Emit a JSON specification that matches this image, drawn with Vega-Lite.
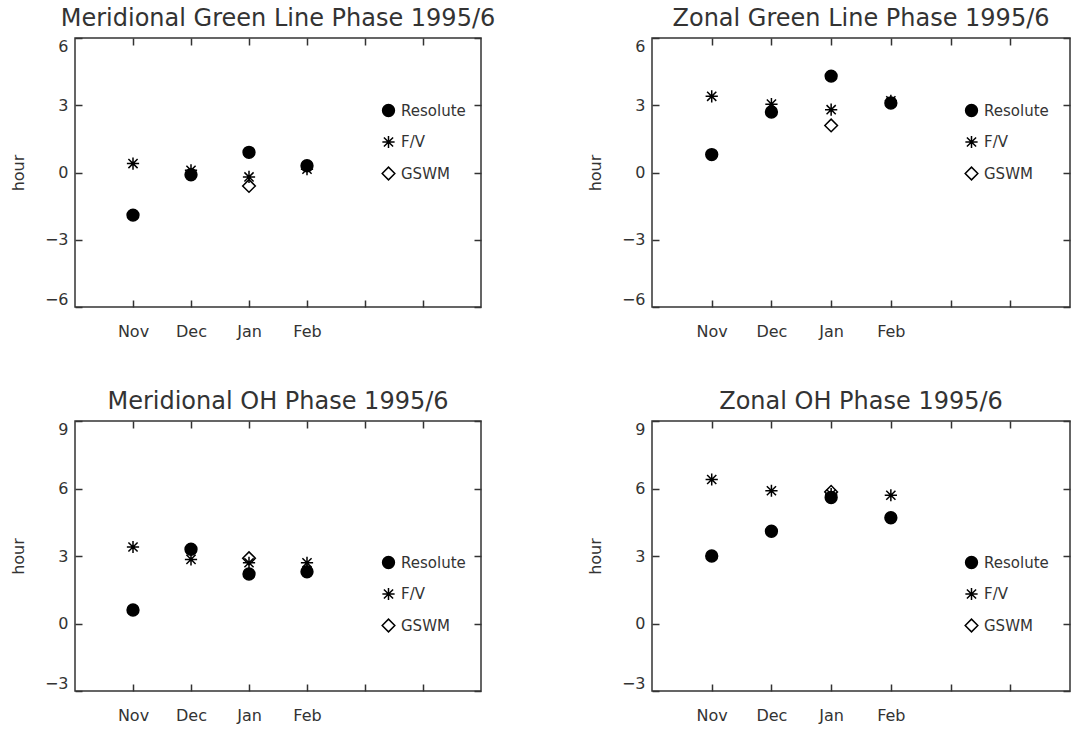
{
  "$schema": "https://vega.github.io/schema/vega-lite/v6.json",
  "background": "white",
  "padding": {"left": 9, "top": 6, "right": 0, "bottom": 0},
  "spacing": 49,
  "config": {
    "font": "DejaVu Sans",
    "view": {"stroke": "#333", "strokeWidth": 1.5},
    "axis": {
      "grid": false, "domain": false,
      "tickColor": "#333", "tickWidth": 1.5, "tickSize": -7,
      "labelColor": "#333", "labelFontSize": 16, "labelFont": "DejaVu Sans",
      "titleColor": "#333", "titleFontSize": 16, "titleFontWeight": "normal", "titleFont": "DejaVu Sans"
    },
    "title": {"fontSize": 24, "fontWeight": "normal", "color": "#333", "anchor": "middle", "offset": 6, "font": "DejaVu Sans"},
    "legend": {
      "labelFontSize": 15, "labelColor": "#333", "labelFont": "DejaVu Sans",
      "symbolStrokeColor": "black", "symbolStrokeWidth": 1.5, "symbolOpacity": 1,
      "padding": 0, "rowPadding": 12.5, "labelOffset": 5, "offset": 0
    }
  },
  "datasets": {
    "phase": [
      {"panel": "MG", "series": "F/V", "month": "Nov", "hour": 0.4},
      {"panel": "MG", "series": "F/V", "month": "Dec", "hour": 0.1},
      {"panel": "MG", "series": "F/V", "month": "Jan", "hour": -0.2},
      {"panel": "MG", "series": "F/V", "month": "Feb", "hour": 0.15},
      {"panel": "MG", "series": "Resolute", "month": "Nov", "hour": -1.9},
      {"panel": "MG", "series": "Resolute", "month": "Dec", "hour": -0.1},
      {"panel": "MG", "series": "Resolute", "month": "Jan", "hour": 0.9},
      {"panel": "MG", "series": "Resolute", "month": "Feb", "hour": 0.3},
      {"panel": "MG", "series": "GSWM", "month": "Jan", "hour": -0.6},
      {"panel": "ZG", "series": "F/V", "month": "Nov", "hour": 3.4},
      {"panel": "ZG", "series": "F/V", "month": "Dec", "hour": 3.05},
      {"panel": "ZG", "series": "F/V", "month": "Jan", "hour": 2.8},
      {"panel": "ZG", "series": "F/V", "month": "Feb", "hour": 3.2},
      {"panel": "ZG", "series": "Resolute", "month": "Nov", "hour": 0.8},
      {"panel": "ZG", "series": "Resolute", "month": "Dec", "hour": 2.7},
      {"panel": "ZG", "series": "Resolute", "month": "Jan", "hour": 4.3},
      {"panel": "ZG", "series": "Resolute", "month": "Feb", "hour": 3.1},
      {"panel": "ZG", "series": "GSWM", "month": "Jan", "hour": 2.1},
      {"panel": "MO", "series": "F/V", "month": "Nov", "hour": 3.4},
      {"panel": "MO", "series": "F/V", "month": "Dec", "hour": 2.85},
      {"panel": "MO", "series": "F/V", "month": "Jan", "hour": 2.7},
      {"panel": "MO", "series": "F/V", "month": "Feb", "hour": 2.7},
      {"panel": "MO", "series": "Resolute", "month": "Nov", "hour": 0.6},
      {"panel": "MO", "series": "Resolute", "month": "Dec", "hour": 3.3},
      {"panel": "MO", "series": "Resolute", "month": "Jan", "hour": 2.2},
      {"panel": "MO", "series": "Resolute", "month": "Feb", "hour": 2.3},
      {"panel": "MO", "series": "GSWM", "month": "Jan", "hour": 2.9},
      {"panel": "ZO", "series": "F/V", "month": "Nov", "hour": 6.4},
      {"panel": "ZO", "series": "F/V", "month": "Dec", "hour": 5.9},
      {"panel": "ZO", "series": "F/V", "month": "Jan", "hour": 5.75},
      {"panel": "ZO", "series": "F/V", "month": "Feb", "hour": 5.7},
      {"panel": "ZO", "series": "Resolute", "month": "Nov", "hour": 3.0},
      {"panel": "ZO", "series": "Resolute", "month": "Dec", "hour": 4.1},
      {"panel": "ZO", "series": "Resolute", "month": "Jan", "hour": 5.6},
      {"panel": "ZO", "series": "Resolute", "month": "Feb", "hour": 4.7},
      {"panel": "ZO", "series": "GSWM", "month": "Jan", "hour": 5.85}
    ]
  },
  "resolve": {"scale": {"shape": "independent", "fill": "independent", "size": "independent"}},
  "vconcat": [
    {
      "spacing": 90,
      "resolve": {"scale": {"shape": "independent", "fill": "independent", "size": "independent"}},
      "hconcat": [
        {
          "width": 406, "height": 269,
          "title": "Meridional Green Line Phase 1995/6",
          "data": {"name": "phase"},
          "transform": [{"filter": "datum.panel == 'MG'"}],
          "resolve": {"axis": {"x": "independent", "y": "independent"}},
          "layer": [
            {
              "mark": {"type": "point", "stroke": "black", "strokeWidth": 1.5, "opacity": 1},
              "encoding": {
                "x": {"field": "month", "type": "nominal", "scale": {"type": "point", "domain": ["Nov", "Dec", "Jan", "Feb", "Mar", "Apr"], "padding": 1},
                      "axis": {"orient": "bottom", "title": null, "labelAngle": 0, "labelPadding": 23, "labelExpr": "indexof(['Mar','Apr'], datum.value) >= 0 ? '' : datum.value"}},
                "y": {"field": "hour", "type": "quantitative", "scale": {"domain": [-6, 6], "nice": false, "zero": false},
                      "axis": {"orient": "left", "title": "hour", "values": [-6, -3, 0, 3, 6], "labelPadding": 14, "labelFlush": true, "titlePadding": 18}},
                "shape": {"field": "series", "type": "nominal", "scale": {"domain": ["Resolute", "F/V", "GSWM"], "range": ["circle", "M0,-1L0,1M-1,0L1,0M-0.75,-0.75L0.75,0.75M-0.75,0.75L0.75,-0.75", "diamond"]},
                          "legend": {"title": null, "orient": "none", "legendX": 306, "legendY": 65, "encode": {"symbols": {"update": {"stroke": {"value": "black"}, "strokeWidth": {"value": 1.5}, "opacity": {"value": 1}}}}}},
                "fill": {"field": "series", "type": "nominal", "scale": {"domain": ["Resolute", "F/V", "GSWM"], "range": ["black", "transparent", "transparent"]},
                         "legend": {"title": null, "orient": "none", "legendX": 306, "legendY": 65, "encode": {"symbols": {"update": {"stroke": {"value": "black"}, "strokeWidth": {"value": 1.5}, "opacity": {"value": 1}}}}}},
                "size": {"field": "series", "type": "nominal", "scale": {"domain": ["Resolute", "F/V", "GSWM"], "range": [140, 160, 100]},
                         "legend": {"title": null, "orient": "none", "legendX": 306, "legendY": 65, "encode": {"symbols": {"update": {"stroke": {"value": "black"}, "strokeWidth": {"value": 1.5}, "opacity": {"value": 1}}}}}}
              }
            },
            {
              "mark": {"type": "point", "opacity": 0},
              "encoding": {
                "x": {"field": "month", "type": "nominal", "axis": {"orient": "top", "title": null, "labels": false}},
                "y": {"field": "hour", "type": "quantitative", "axis": {"orient": "right", "title": null, "labels": false, "values": [-6, -3, 0, 3, 6]}}
              }
            }
          ]
        },
        {
          "width": 418, "height": 269,
          "title": "Zonal Green Line Phase 1995/6",
          "data": {"name": "phase"},
          "transform": [{"filter": "datum.panel == 'ZG'"}],
          "resolve": {"axis": {"x": "independent", "y": "independent"}},
          "layer": [
            {
              "mark": {"type": "point", "stroke": "black", "strokeWidth": 1.5, "opacity": 1},
              "encoding": {
                "x": {"field": "month", "type": "nominal", "scale": {"type": "point", "domain": ["Nov", "Dec", "Jan", "Feb", "Mar", "Apr"], "padding": 1},
                      "axis": {"orient": "bottom", "title": null, "labelAngle": 0, "labelPadding": 23, "labelExpr": "indexof(['Mar','Apr'], datum.value) >= 0 ? '' : datum.value"}},
                "y": {"field": "hour", "type": "quantitative", "scale": {"domain": [-6, 6], "nice": false, "zero": false},
                      "axis": {"orient": "left", "title": "hour", "values": [-6, -3, 0, 3, 6], "labelPadding": 14, "labelFlush": true, "titlePadding": 18}},
                "shape": {"field": "series", "type": "nominal", "scale": {"domain": ["Resolute", "F/V", "GSWM"], "range": ["circle", "M0,-1L0,1M-1,0L1,0M-0.75,-0.75L0.75,0.75M-0.75,0.75L0.75,-0.75", "diamond"]},
                          "legend": {"title": null, "orient": "none", "legendX": 312, "legendY": 65, "encode": {"symbols": {"update": {"stroke": {"value": "black"}, "strokeWidth": {"value": 1.5}, "opacity": {"value": 1}}}}}},
                "fill": {"field": "series", "type": "nominal", "scale": {"domain": ["Resolute", "F/V", "GSWM"], "range": ["black", "transparent", "transparent"]},
                         "legend": {"title": null, "orient": "none", "legendX": 312, "legendY": 65, "encode": {"symbols": {"update": {"stroke": {"value": "black"}, "strokeWidth": {"value": 1.5}, "opacity": {"value": 1}}}}}},
                "size": {"field": "series", "type": "nominal", "scale": {"domain": ["Resolute", "F/V", "GSWM"], "range": [140, 160, 100]},
                         "legend": {"title": null, "orient": "none", "legendX": 312, "legendY": 65, "encode": {"symbols": {"update": {"stroke": {"value": "black"}, "strokeWidth": {"value": 1.5}, "opacity": {"value": 1}}}}}}
              }
            },
            {
              "mark": {"type": "point", "opacity": 0},
              "encoding": {
                "x": {"field": "month", "type": "nominal", "axis": {"orient": "top", "title": null, "labels": false}},
                "y": {"field": "hour", "type": "quantitative", "axis": {"orient": "right", "title": null, "labels": false, "values": [-6, -3, 0, 3, 6]}}
              }
            }
          ]
        }
      ]
    },
    {
      "spacing": 103,
      "resolve": {"scale": {"shape": "independent", "fill": "independent", "size": "independent"}},
      "hconcat": [
        {
          "width": 406, "height": 270,
          "title": "Meridional OH Phase 1995/6",
          "data": {"name": "phase"},
          "transform": [{"filter": "datum.panel == 'MO'"}],
          "resolve": {"axis": {"x": "independent", "y": "independent"}},
          "layer": [
            {
              "mark": {"type": "point", "stroke": "black", "strokeWidth": 1.5, "opacity": 1},
              "encoding": {
                "x": {"field": "month", "type": "nominal", "scale": {"type": "point", "domain": ["Nov", "Dec", "Jan", "Feb", "Mar", "Apr"], "padding": 1},
                      "axis": {"orient": "bottom", "title": null, "labelAngle": 0, "labelPadding": 23, "labelExpr": "indexof(['Mar','Apr'], datum.value) >= 0 ? '' : datum.value"}},
                "y": {"field": "hour", "type": "quantitative", "scale": {"domain": [-3, 9], "nice": false, "zero": false},
                      "axis": {"orient": "left", "title": "hour", "values": [-3, 0, 3, 6, 9], "labelPadding": 14, "labelFlush": true, "titlePadding": 18}},
                "shape": {"field": "series", "type": "nominal", "scale": {"domain": ["Resolute", "F/V", "GSWM"], "range": ["circle", "M0,-1L0,1M-1,0L1,0M-0.75,-0.75L0.75,0.75M-0.75,0.75L0.75,-0.75", "diamond"]},
                          "legend": {"title": null, "orient": "none", "legendX": 306, "legendY": 134, "encode": {"symbols": {"update": {"stroke": {"value": "black"}, "strokeWidth": {"value": 1.5}, "opacity": {"value": 1}}}}}},
                "fill": {"field": "series", "type": "nominal", "scale": {"domain": ["Resolute", "F/V", "GSWM"], "range": ["black", "transparent", "transparent"]},
                         "legend": {"title": null, "orient": "none", "legendX": 306, "legendY": 134, "encode": {"symbols": {"update": {"stroke": {"value": "black"}, "strokeWidth": {"value": 1.5}, "opacity": {"value": 1}}}}}},
                "size": {"field": "series", "type": "nominal", "scale": {"domain": ["Resolute", "F/V", "GSWM"], "range": [140, 160, 100]},
                         "legend": {"title": null, "orient": "none", "legendX": 306, "legendY": 134, "encode": {"symbols": {"update": {"stroke": {"value": "black"}, "strokeWidth": {"value": 1.5}, "opacity": {"value": 1}}}}}}
              }
            },
            {
              "mark": {"type": "point", "opacity": 0},
              "encoding": {
                "x": {"field": "month", "type": "nominal", "axis": {"orient": "top", "title": null, "labels": false}},
                "y": {"field": "hour", "type": "quantitative", "axis": {"orient": "right", "title": null, "labels": false, "values": [-3, 0, 3, 6, 9]}}
              }
            }
          ]
        },
        {
          "width": 418, "height": 270,
          "title": "Zonal OH Phase 1995/6",
          "data": {"name": "phase"},
          "transform": [{"filter": "datum.panel == 'ZO'"}],
          "resolve": {"axis": {"x": "independent", "y": "independent"}},
          "layer": [
            {
              "mark": {"type": "point", "stroke": "black", "strokeWidth": 1.5, "opacity": 1},
              "encoding": {
                "x": {"field": "month", "type": "nominal", "scale": {"type": "point", "domain": ["Nov", "Dec", "Jan", "Feb", "Mar", "Apr"], "padding": 1},
                      "axis": {"orient": "bottom", "title": null, "labelAngle": 0, "labelPadding": 23, "labelExpr": "indexof(['Mar','Apr'], datum.value) >= 0 ? '' : datum.value"}},
                "y": {"field": "hour", "type": "quantitative", "scale": {"domain": [-3, 9], "nice": false, "zero": false},
                      "axis": {"orient": "left", "title": "hour", "values": [-3, 0, 3, 6, 9], "labelPadding": 14, "labelFlush": true, "titlePadding": 18}},
                "shape": {"field": "series", "type": "nominal", "scale": {"domain": ["Resolute", "F/V", "GSWM"], "range": ["circle", "M0,-1L0,1M-1,0L1,0M-0.75,-0.75L0.75,0.75M-0.75,0.75L0.75,-0.75", "diamond"]},
                          "legend": {"title": null, "orient": "none", "legendX": 312, "legendY": 134, "encode": {"symbols": {"update": {"stroke": {"value": "black"}, "strokeWidth": {"value": 1.5}, "opacity": {"value": 1}}}}}},
                "fill": {"field": "series", "type": "nominal", "scale": {"domain": ["Resolute", "F/V", "GSWM"], "range": ["black", "transparent", "transparent"]},
                         "legend": {"title": null, "orient": "none", "legendX": 312, "legendY": 134, "encode": {"symbols": {"update": {"stroke": {"value": "black"}, "strokeWidth": {"value": 1.5}, "opacity": {"value": 1}}}}}},
                "size": {"field": "series", "type": "nominal", "scale": {"domain": ["Resolute", "F/V", "GSWM"], "range": [140, 160, 100]},
                         "legend": {"title": null, "orient": "none", "legendX": 312, "legendY": 134, "encode": {"symbols": {"update": {"stroke": {"value": "black"}, "strokeWidth": {"value": 1.5}, "opacity": {"value": 1}}}}}}
              }
            },
            {
              "mark": {"type": "point", "opacity": 0},
              "encoding": {
                "x": {"field": "month", "type": "nominal", "axis": {"orient": "top", "title": null, "labels": false}},
                "y": {"field": "hour", "type": "quantitative", "axis": {"orient": "right", "title": null, "labels": false, "values": [-3, 0, 3, 6, 9]}}
              }
            }
          ]
        }
      ]
    }
  ]
}
